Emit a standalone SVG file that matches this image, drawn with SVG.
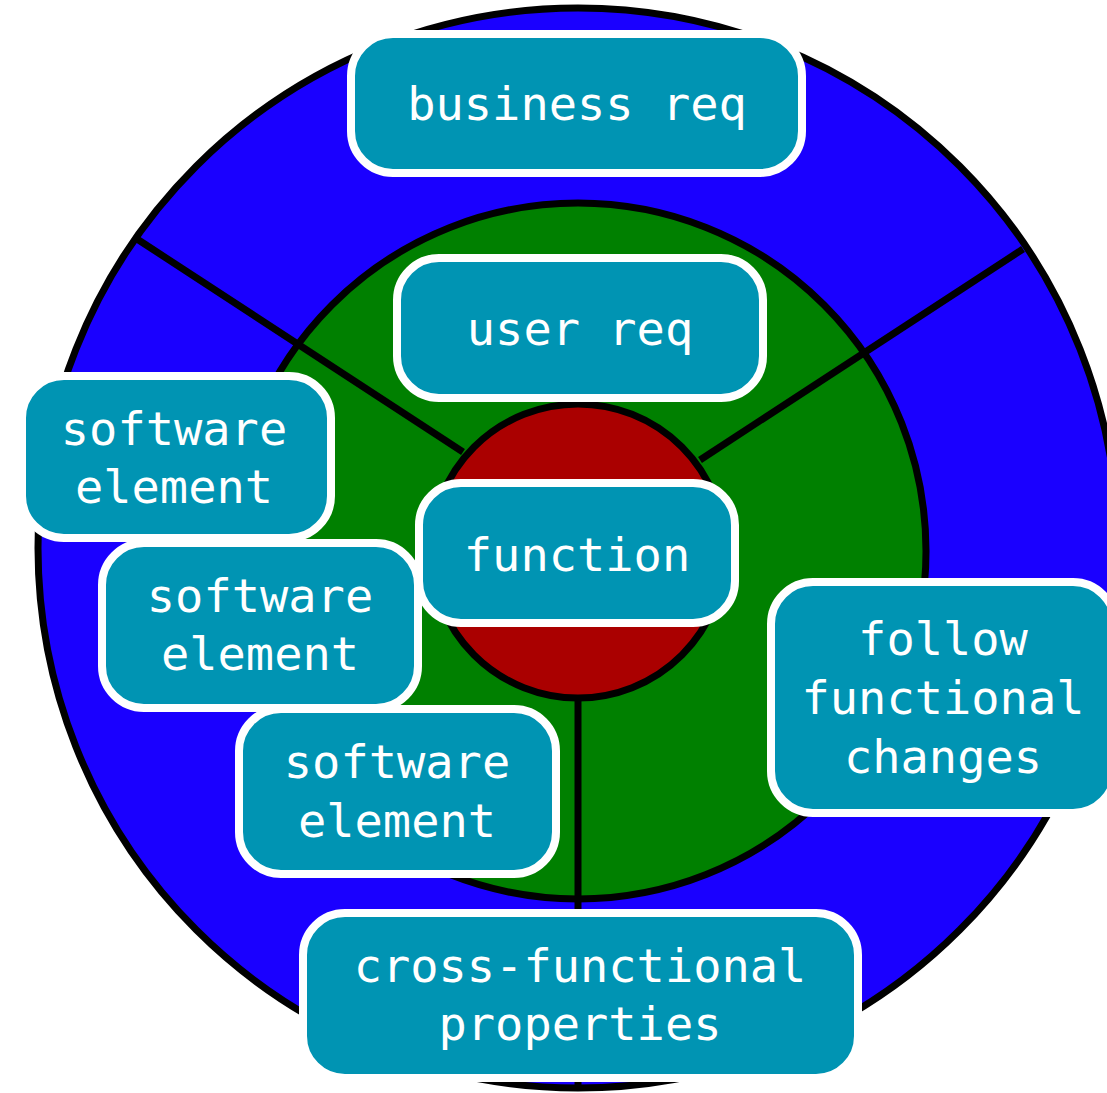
<svg xmlns="http://www.w3.org/2000/svg" width="1107" height="1093" viewBox="0 0 1107 1093">
<style>
.ring{stroke:#000;stroke-width:7}
.sep{stroke:#000;stroke-width:7;fill:none}
.box{fill:#0094b3;stroke:#fff;stroke-width:8}
.lbl{font-family:"DejaVu Sans Mono","Liberation Mono",monospace;font-size:47px;fill:#fff;text-anchor:middle}
</style>
<rect width="1107" height="1093" fill="#fff"/>
<g id="rings">
<circle class="ring" cx="578" cy="548" r="540" fill="#1a00ff"/>
<circle class="ring" cx="578" cy="551" r="348" fill="#008000"/>
<circle class="ring" cx="578" cy="551" r="147" fill="#aa0000"/>
</g>
<g id="connectors">
<line class="sep" x1="137" y1="239" x2="463" y2="452"/>
<line class="sep" x1="1023" y1="249" x2="700" y2="460"/>
<line class="sep" x1="578" y1="698" x2="578" y2="1090"/>
</g>
<g id="business-req">
<rect class="box" x="351" y="34" width="451" height="139" rx="42"/>
<text class="lbl" x="577" y="120">business req</text>
</g>
<g id="user-req">
<rect class="box" x="397" y="258" width="366" height="140" rx="42"/>
<text class="lbl" x="580" y="345">user req</text>
</g>
<g id="function">
<rect class="box" x="419" y="483" width="316" height="140" rx="42"/>
<text class="lbl" x="577" y="571">function</text>
</g>
<g id="software-element-1">
<rect class="box" x="22" y="376" width="309" height="162" rx="42"/>
<text class="lbl" x="174" y="445">software</text>
<text class="lbl" x="174" y="503">element</text>
</g>
<g id="software-element-2">
<rect class="box" x="102" y="543" width="316" height="165" rx="42"/>
<text class="lbl" x="260" y="612">software</text>
<text class="lbl" x="260" y="670">element</text>
</g>
<g id="software-element-3">
<rect class="box" x="239" y="709" width="317" height="165" rx="42"/>
<text class="lbl" x="397" y="778">software</text>
<text class="lbl" x="397" y="837">element</text>
</g>
<g id="follow-functional-changes">
<rect class="box" x="771" y="582" width="344" height="231" rx="42"/>
<text class="lbl" x="943" y="655">follow</text>
<text class="lbl" x="943" y="714">functional</text>
<text class="lbl" x="943" y="773">changes</text>
</g>
<g id="cross-functional-properties">
<rect class="box" x="303" y="913" width="555" height="165" rx="42"/>
<text class="lbl" x="580" y="982">cross-functional</text>
<text class="lbl" x="580" y="1040">properties</text>
</g>
</svg>
